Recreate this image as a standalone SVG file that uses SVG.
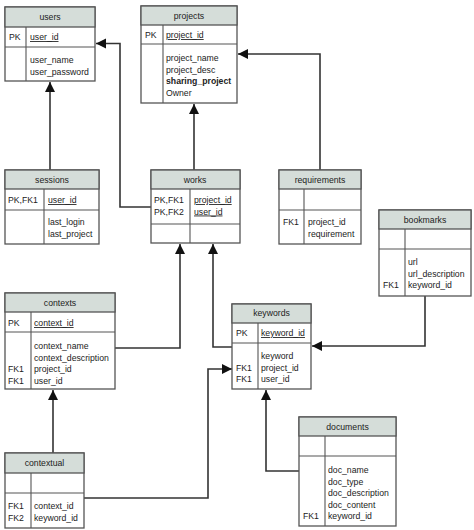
<svg xmlns="http://www.w3.org/2000/svg" width="474" height="530" viewBox="0 0 474 530">
<style>
.box{fill:#fff;stroke:#555;stroke-width:1.3}
.hdr{fill:#d5ddd9;stroke:#555;stroke-width:1.3}
.ln{stroke:#555;stroke-width:1.1;fill:none}
.t{font-family:"Liberation Sans",Arial,sans-serif;font-size:8.7px;fill:#222}
.h{text-anchor:middle}
.u{text-decoration:underline}
.b{font-weight:bold}
.c{fill:none;stroke:#333;stroke-width:1.6}
</style>
<defs>
<marker id="ar" markerUnits="userSpaceOnUse" markerWidth="12" markerHeight="12" refX="10" refY="5" orient="auto">
<path d="M0,0 L10,5 L0,10 Z" fill="#111"/>
</marker>
</defs>
<rect width="474" height="530" fill="#fff"/>
<g id="connectors">
<path class="c" d="M50,170 V82" marker-end="url(#ar)"/>
<path class="c" d="M151,207 H120 V43.5 H96" marker-end="url(#ar)"/>
<path class="c" d="M194,170 V104" marker-end="url(#ar)"/>
<path class="c" d="M320,170 V54 H238" marker-end="url(#ar)"/>
<path class="c" d="M115,348 H180 V244" marker-end="url(#ar)"/>
<path class="c" d="M232,347 H213 V244" marker-end="url(#ar)"/>
<path class="c" d="M425,296 V346 H312" marker-end="url(#ar)"/>
<path class="c" d="M84,498 H208 V369 H232" marker-end="url(#ar)"/>
<path class="c" d="M53,453 V390" marker-end="url(#ar)"/>
<path class="c" d="M299,471 H266 V390" marker-end="url(#ar)"/>
</g>
<g id="users">
<rect class="box" x="5" y="7" width="90" height="74"/>
<rect class="hdr" x="5" y="7" width="90" height="20"/>
<line class="ln" x1="5" y1="47" x2="95" y2="47"/>
<line class="ln" x1="26" y1="27" x2="26" y2="81"/>
<text class="t h" x="50" y="20">users</text>
<text class="t" x="9" y="40">PK</text>
<text class="t u" x="30" y="40">user_id</text>
<text class="t" x="30" y="63">user_name</text>
<text class="t" x="30" y="74.5">user_password</text>
</g>
<g id="projects">
<rect class="box" x="141" y="6" width="96" height="97"/>
<rect class="hdr" x="141" y="6" width="96" height="19"/>
<line class="ln" x1="141" y1="44" x2="237" y2="44"/>
<line class="ln" x1="163" y1="25" x2="163" y2="103"/>
<text class="t h" x="189" y="19">projects</text>
<text class="t" x="145" y="38">PK</text>
<text class="t u" x="166" y="38">project_id</text>
<text class="t" x="166" y="61">project_name</text>
<text class="t" x="166" y="72.5">project_desc</text>
<text class="t b" x="166" y="84">sharing_project</text>
<text class="t" x="166" y="95.5">Owner</text>
</g>
<g id="sessions">
<rect class="box" x="5" y="170" width="94" height="74"/>
<rect class="hdr" x="5" y="170" width="94" height="19"/>
<line class="ln" x1="5" y1="210" x2="99" y2="210"/>
<line class="ln" x1="44" y1="189" x2="44" y2="244"/>
<text class="t h" x="52" y="183">sessions</text>
<text class="t" x="8" y="203">PK,FK1</text>
<text class="t u" x="48" y="203">user_id</text>
<text class="t" x="48" y="225">last_login</text>
<text class="t" x="48" y="236.5">last_project</text>
</g>
<g id="works">
<rect class="box" x="151" y="170" width="89" height="73"/>
<rect class="hdr" x="151" y="170" width="89" height="19"/>
<line class="ln" x1="151" y1="224" x2="240" y2="224"/>
<line class="ln" x1="190" y1="189" x2="190" y2="243"/>
<text class="t h" x="195" y="183">works</text>
<text class="t" x="154" y="203">PK,FK1</text>
<text class="t" x="154" y="214.5">PK,FK2</text>
<text class="t u" x="194" y="203">project_id</text>
<text class="t u" x="194" y="214.5">user_id</text>
</g>
<g id="requirements">
<rect class="box" x="279" y="170" width="82" height="74"/>
<rect class="hdr" x="279" y="170" width="82" height="19"/>
<line class="ln" x1="279" y1="210" x2="361" y2="210"/>
<line class="ln" x1="304" y1="189" x2="304" y2="244"/>
<text class="t h" x="320" y="183">requirements</text>
<text class="t" x="283" y="225">FK1</text>
<text class="t" x="308" y="225">project_id</text>
<text class="t" x="308" y="236.5">requirement</text>
</g>
<g id="bookmarks">
<rect class="box" x="379" y="210" width="92" height="86"/>
<rect class="hdr" x="379" y="210" width="92" height="19"/>
<line class="ln" x1="379" y1="249" x2="471" y2="249"/>
<line class="ln" x1="405" y1="229" x2="405" y2="296"/>
<text class="t h" x="425" y="223">bookmarks</text>
<text class="t" x="408" y="265">url</text>
<text class="t" x="408" y="276.5">url_description</text>
<text class="t" x="383" y="288">FK1</text>
<text class="t" x="408" y="288">keyword_id</text>
</g>
<g id="keywords">
<rect class="box" x="232" y="304" width="79" height="85"/>
<rect class="hdr" x="232" y="304" width="79" height="19"/>
<line class="ln" x1="232" y1="343" x2="311" y2="343"/>
<line class="ln" x1="258" y1="323" x2="258" y2="389"/>
<text class="t h" x="271.5" y="316">keywords</text>
<text class="t" x="236" y="336">PK</text>
<text class="t u" x="261" y="336">keyword_id</text>
<text class="t" x="261" y="359">keyword</text>
<text class="t" x="236" y="370.5">FK1</text>
<text class="t" x="261" y="370.5">project_id</text>
<text class="t" x="236" y="382">FK1</text>
<text class="t" x="261" y="382">user_id</text>
</g>
<g id="contexts">
<rect class="box" x="5" y="293" width="110" height="96"/>
<rect class="hdr" x="5" y="293" width="110" height="19"/>
<line class="ln" x1="5" y1="332" x2="115" y2="332"/>
<line class="ln" x1="31" y1="312" x2="31" y2="389"/>
<text class="t h" x="60" y="306">contexts</text>
<text class="t" x="8" y="326">PK</text>
<text class="t u" x="34" y="326">context_id</text>
<text class="t" x="34" y="349">context_name</text>
<text class="t" x="34" y="360.5">context_description</text>
<text class="t" x="8" y="372">FK1</text>
<text class="t" x="34" y="372">project_id</text>
<text class="t" x="8" y="383.5">FK1</text>
<text class="t" x="34" y="383.5">user_id</text>
</g>
<g id="contextual">
<rect class="box" x="5" y="453" width="79" height="75"/>
<rect class="hdr" x="5" y="453" width="79" height="20"/>
<line class="ln" x1="5" y1="493" x2="84" y2="493"/>
<line class="ln" x1="31" y1="473" x2="31" y2="528"/>
<text class="t h" x="44.5" y="466">contextual</text>
<text class="t" x="8" y="509">FK1</text>
<text class="t" x="34" y="509">context_id</text>
<text class="t" x="8" y="520.5">FK2</text>
<text class="t" x="34" y="520.5">keyword_id</text>
</g>
<g id="documents">
<rect class="box" x="299" y="417" width="97" height="109"/>
<rect class="hdr" x="299" y="417" width="97" height="19"/>
<line class="ln" x1="299" y1="456" x2="396" y2="456"/>
<line class="ln" x1="325" y1="436" x2="325" y2="526"/>
<text class="t h" x="347.5" y="430">documents</text>
<text class="t" x="328" y="473">doc_name</text>
<text class="t" x="328" y="484.5">doc_type</text>
<text class="t" x="328" y="496">doc_description</text>
<text class="t" x="328" y="507.5">doc_content</text>
<text class="t" x="303" y="519">FK1</text>
<text class="t" x="328" y="519">keyword_id</text>
</g>
</svg>
